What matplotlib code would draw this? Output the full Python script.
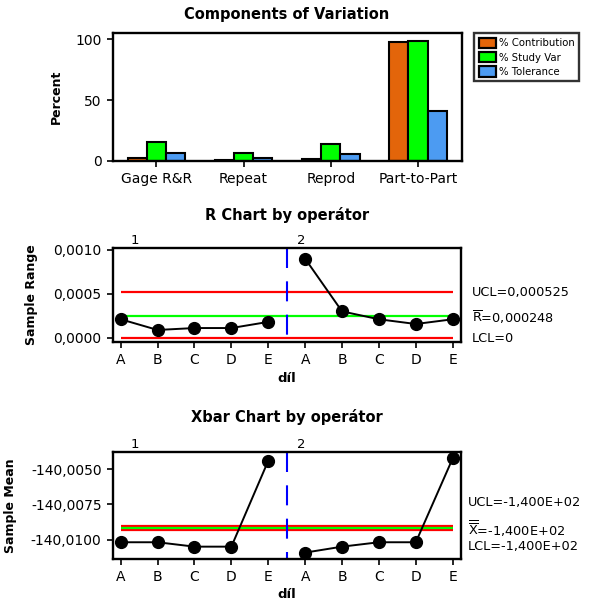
#!/usr/bin/env python3
"""Gage R&R summary: components of variation, R chart, Xbar chart"""
import matplotlib
matplotlib.use("Agg")
import matplotlib.pyplot as plt
from matplotlib.patches import Patch
import numpy as np

# --- data -------------------------------------------------------------
components = ["Gage R&R", "Repeat", "Reprod", "Part-to-Part"]
pct_contribution = [2.4, 0.42, 1.96, 97.6]
pct_study_var = [15.4, 6.5, 14.0, 98.8]
pct_tolerance = [6.4, 2.7, 5.8, 41.0]

parts = ["A", "B", "C", "D", "E", "A", "B", "C", "D", "E"]
operators = ["1", "2"]
ranges = [0.00021, 0.000088, 0.00011, 0.00011, 0.00018,
          0.0009, 0.0003, 0.00021, 0.000156, 0.00021]
r_ucl, r_bar, r_lcl = 0.000525, 0.000248, 0.0
r_yticks = [0.0, 0.0005, 0.0010]
r_ylabels = ["0,0000", "0,0005", "0,0010"]

means = [-140.01016, -140.01016, -140.01047, -140.01047, -140.00442,
         -140.01089, -140.01047, -140.01016, -140.01016, -140.00425]
x_bar = -140.00914
x_ucl = x_bar + 0.000143
x_lcl = x_bar - 0.000143
x_yticks = [-140.0100, -140.0075, -140.0050]
x_ylabels = ["-140,0100", "-140,0075", "-140,0050"]

plt.rcParams["font.family"] = ["DejaVu Sans"]
plt.rcParams["mathtext.fontset"] = "custom"
plt.rcParams["mathtext.rm"] = "DejaVu Sans"

W, H = 590, 608
fig = plt.figure(figsize=(W / 100, H / 100), dpi=100)


def px_axes(x0, y0, x1, y1):
    return fig.add_axes([x0 / W, 1 - y1 / H, (x1 - x0) / W, (y1 - y0) / H])


def style(ax):
    for s in ax.spines.values():
        s.set_linewidth(1.7)
    ax.tick_params(direction="out", length=4, width=1.2, labelsize=10, pad=4, top=False, right=False)


def title_at(y_px, text):
    fig.text(287 / W, 1 - y_px / H, text, ha="center", va="center", fontsize=10.5, fontweight="bold")


ORANGE, GREEN, BLUE = "#E3650A", "#00FF00", "#4C9BF2"
LFS = 9

# --- components of variation ----------------------------------------
ax1 = px_axes(112.7, 33.3, 461.7, 161)
style(ax1)
x = np.arange(len(components))
w = 0.22
for off, vals, col in [(-w, pct_contribution, ORANGE), (0, pct_study_var, GREEN), (w, pct_tolerance, BLUE)]:
    ax1.bar(x + off, vals, w, color=col, edgecolor="black", linewidth=1.5)
ax1.set_xlim(-0.5, 3.5)
ax1.set_ylim(0, 104.9)
ax1.set_yticks([0, 50, 100])
ax1.set_xticks(x)
ax1.set_xticklabels(components)
ax1.set_ylabel("Percent", fontsize=LFS, fontweight="bold")
ax1.yaxis.set_label_coords(-0.143, 0.5)
title_at(15, "Components of Variation")

handles = [Patch(facecolor=c, edgecolor="black", linewidth=1.6) for c in (ORANGE, GREEN, BLUE)]
leg = fig.legend(handles, ["% Contribution", "% Study Var", "% Tolerance"],
                 loc="upper left", bbox_to_anchor=(474 / W, 1 - 33.3 / H), fontsize=7.3,
                 fancybox=False, edgecolor="black", handlelength=1.7, handleheight=1.2,
                 handletextpad=0.3, labelspacing=0.35, borderpad=0.45, borderaxespad=0)
leg.get_frame().set_linewidth(1.7)


def control_chart(ax, vals, ucl, center, lcl, yticks, ylabels, ylim, ylabel, label_x, labels):
    style(ax)
    idx = np.arange(1, len(vals) + 1)
    ax.hlines([ucl, lcl], 1, len(vals), colors="#FF0000", linewidth=1.6)
    ax.hlines(center, 1, len(vals), colors=GREEN, linewidth=1.6)
    ax.plot([5.5, 5.5], [1, 0], transform=ax.get_xaxis_transform(),
            color="#0000FF", linewidth=1.5, dashes=(9.6, 6.4))
    ax.plot(idx[:5], vals[:5], "-o", color="black", markersize=8.5, linewidth=1.4)
    ax.plot(idx[5:], vals[5:], "-o", color="black", markersize=8.5, linewidth=1.4)
    ax.set_xlim(0.783, 10.233)
    ax.set_ylim(*ylim)
    ax.set_xticks(idx)
    ax.set_xticklabels(parts)
    ax.set_yticks(yticks)
    ax.set_yticklabels(ylabels)
    ax.set_xlabel("díl", fontsize=LFS + 0.5, fontweight="bold", labelpad=3)
    ax.set_ylabel(ylabel, fontsize=LFS, fontweight="bold")
    ax.yaxis.set_label_coords(label_x, 0.5)
    tr = ax.get_xaxis_transform()
    for xpos, op in zip([1.37, 5.89], operators):
        ax.text(xpos, 1.01, op, transform=tr, ha="center", va="bottom", fontsize=9.5)
    tr2 = ax.get_yaxis_transform()
    for xo, yv, txt in labels:
        ax.text(xo, yv, txt, transform=tr2, ha="left", va="center", fontsize=9.3)


ax2 = px_axes(112.7, 247.7, 461.3, 342.3)
title_at(215, "R Chart by operátor")
control_chart(ax2, ranges, r_ucl, r_bar, r_lcl, r_yticks, r_ylabels, (-0.0000526, 0.001026),
              "Sample Range", -0.213,
              [(1.03, r_ucl - 0.00001, "UCL=0,000525"),
               (1.03, r_bar - 0.00002, r"$\overline{\mathrm{R}}$=0,000248"),
               (1.03, r_lcl - 0.00001, "LCL=0")])

ax3 = px_axes(112.7, 451.7, 461.3, 559)
title_at(417, "Xbar Chart by operátor")
control_chart(ax3, means, x_ucl, x_bar, x_lcl, x_yticks, x_ylabels, (-140.01134, -140.00378),
              "Sample Mean", -0.275,
              [(1.018, x_bar + 0.00175, "UCL=-1,400E+02"),
               (1.018, x_bar - 0.00006, r"$\overline{\overline{\mathrm{X}}}$=-1,400E+02"),
               (1.018, x_bar - 0.0013, "LCL=-1,400E+02")])

fig.savefig("out.png", dpi=100)
